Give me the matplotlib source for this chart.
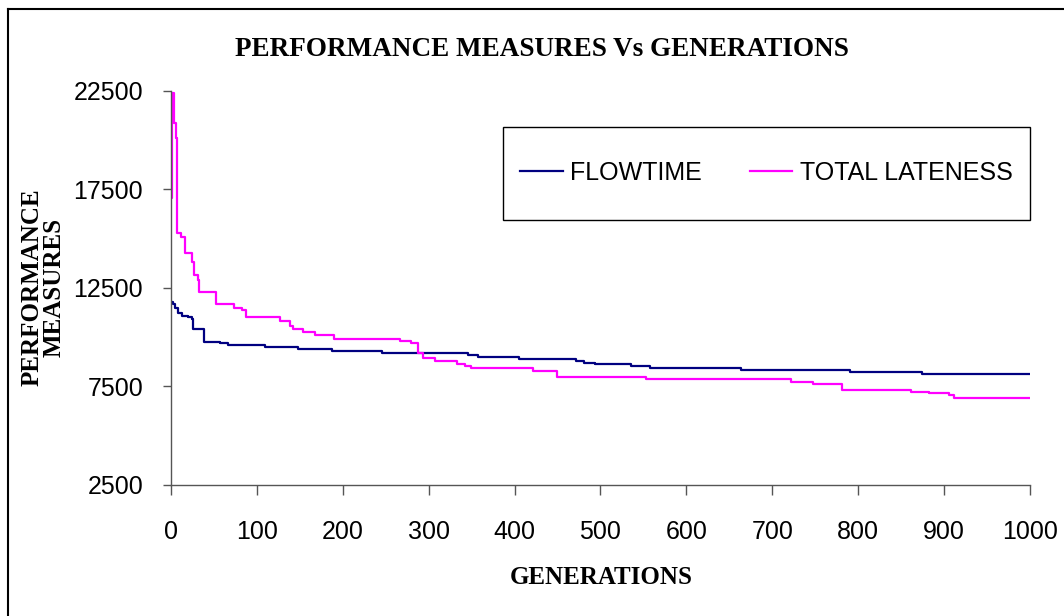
import matplotlib
matplotlib.use("Agg")
import matplotlib.pyplot as plt
from matplotlib.patches import Rectangle
from matplotlib.lines import Line2D

# best-so-far values per generation (value holds until next listed generation)
flow_gen = [0, 2, 5, 8, 13, 20, 24, 26, 38, 57, 66, 109, 148, 188, 246, 346,
            357, 405, 471, 481, 494, 536, 558, 664, 790, 874, 1000]
flow_val = [11800, 11690, 11470, 11220, 11100, 11010, 10910, 10420, 9780, 9700,
            9610, 9520, 9420, 9300, 9220, 9120, 9020, 8920, 8810, 8710, 8630,
            8530, 8420, 8320, 8220, 8130, 8130]

late_gen = [0, 1, 3, 4, 6, 7, 12, 16, 25, 27, 32, 33, 52, 73, 83, 87, 127, 138,
            142, 154, 168, 190, 267, 280, 288, 293, 307, 333, 342, 349, 421,
            449, 553, 722, 748, 781, 862, 883, 906, 911, 1000]
late_val = [17050, 22400, 22150, 20870, 20100, 15280, 15100, 14300, 13840,
            13160, 12900, 12310, 11690, 11470, 11380, 11010, 10825, 10590,
            10420, 10250, 10115, 9930, 9810, 9720, 9220, 8930, 8810, 8630,
            8540, 8420, 8300, 7990, 7890, 7730, 7630, 7320, 7240, 7160, 7070,
            6940, 6940]

x_ticks = list(range(0, 1001, 100))
y_ticks = [2500, 7500, 12500, 17500, 22500]

sans = "Liberation Sans"
serif = "Liberation Serif"

fig = plt.figure(figsize=(10.64, 6.16), dpi=100)
ax = fig.add_axes([0.1607, 0.2127, 0.8073, 0.6396])

ax.plot(flow_gen, flow_val, drawstyle="steps-post", color="#000080",
        lw=1.6, label="FLOWTIME")
ax.plot(late_gen, late_val, drawstyle="steps-post", color="#ff00ff",
        lw=1.6, label="TOTAL LATENESS")

ax.set_xlim(0, 1000)
ax.set_ylim(2500, 22500)
ax.set_xticks(x_ticks)
ax.set_yticks(y_ticks)
for s in ["top", "right"]:
    ax.spines[s].set_visible(False)
for s in ["left", "bottom"]:
    ax.spines[s].set_color("#555555")
    ax.spines[s].set_linewidth(1.0)
ax.tick_params(axis="x", direction="out", length=7, width=1, color="#555555",
               pad=18, labelsize=18)
ax.tick_params(axis="y", direction="out", length=6, width=1, color="#555555",
               pad=14, labelsize=18)
for lab in ax.get_xticklabels() + ax.get_yticklabels():
    lab.set_fontfamily(sans)

# titles
fig.text(0.5094, 0.92, "PERFORMANCE MEASURES Vs GENERATIONS", ha="center",
         va="center", fontsize=19.5, fontweight="bold", family=serif)
fig.text(0.565, 0.0617, "GENERATIONS", ha="center", va="center",
         fontsize=18, fontweight="bold", family=serif)
fig.text(0.0405, 0.534, "PERFORMANCE\nMEASURES", ha="center", va="center",
         rotation=90, fontsize=18, fontweight="bold", family=serif,
         linespacing=1.0)

# legend with its own box
fig.patches.append(Rectangle((0.4727, 0.6429), 0.4953, 0.151,
                             transform=fig.transFigure, fill=False,
                             edgecolor="black", lw=1.0))
fig.legend(loc="center", bbox_to_anchor=(0.7204, 0.719), ncol=2,
           frameon=False, prop={"family": sans, "size": 18},
           handlelength=1.7, handletextpad=0.3, columnspacing=1.9)

# outer chart frame: only the left and top edges fall inside the image
fig.lines.append(Line2D([0.0075, 0.0075], [0.0, 0.986],
                        transform=fig.transFigure, color="black", lw=1.5))
fig.lines.append(Line2D([0.0075, 1.0], [0.986, 0.986],
                        transform=fig.transFigure, color="black", lw=1.5))

fig.savefig("out.png", dpi=100)
